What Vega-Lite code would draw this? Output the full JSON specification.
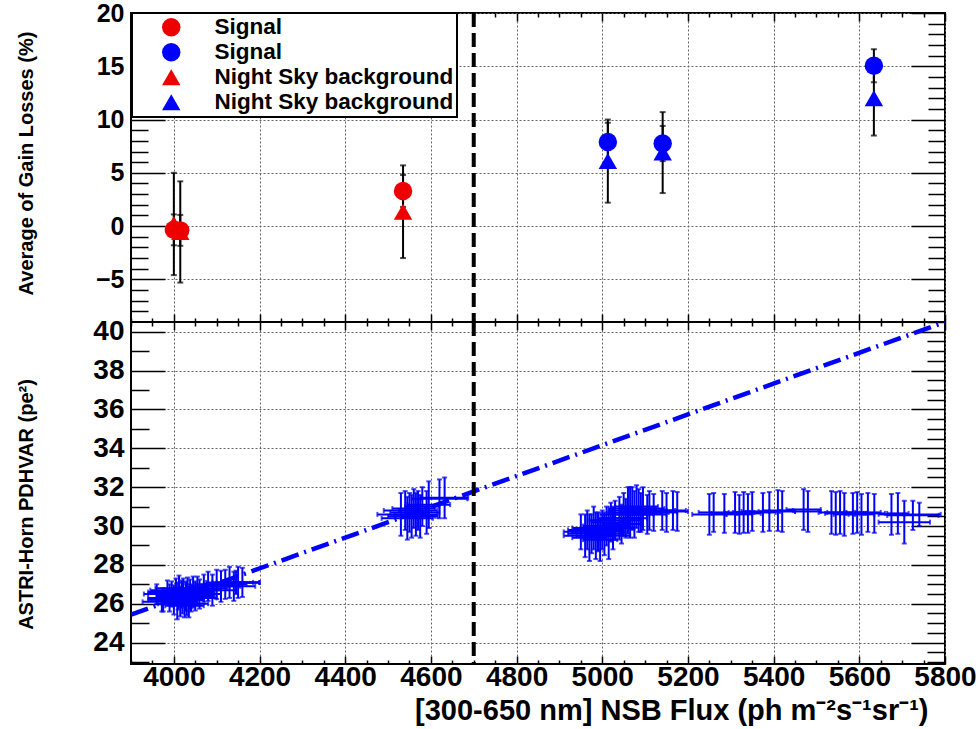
{
  "$schema": "https://vega.github.io/schema/vega-lite/v6.json",
  "background": "white",
  "padding": {"left": 14, "top": 0, "right": 0, "bottom": 0},
  "spacing": 0,
  "bounds": "flush",
  "datasets": {
    "gain": [
      {"flux": 4000, "series": "Signal | red", "value": -0.35, "err": 1.45},
      {"flux": 4015, "series": "Signal | red", "value": -0.4, "err": 1.45},
      {"flux": 4535, "series": "Signal | red", "value": 3.3, "err": 1.5},
      {"flux": 5013, "series": "Signal | blue", "value": 7.9, "err": 1.8},
      {"flux": 5141, "series": "Signal | blue", "value": 7.75, "err": 1.65},
      {"flux": 5634, "series": "Signal | blue", "value": 15.05, "err": 1.55},
      {"flux": 4000, "series": "Night Sky background | red", "value": 0.2, "err": 4.8},
      {"flux": 4015, "series": "Night Sky background | red", "value": -0.55, "err": 4.75},
      {"flux": 4535, "series": "Night Sky background | red", "value": 1.35, "err": 4.35},
      {"flux": 5013, "series": "Night Sky background | blue", "value": 6.1, "err": 3.9},
      {"flux": 5141, "series": "Night Sky background | blue", "value": 6.9, "err": 3.8},
      {"flux": 5634, "series": "Night Sky background | blue", "value": 12.0, "err": 3.5}
    ],
    "pdhvar": [
      {"flux": 3960, "fe": 30, "pd": 26.5, "pe": 0.5},
      {"flux": 3972, "fe": 45, "pd": 26.1, "pe": 0.5},
      {"flux": 3975, "fe": 35, "pd": 26.2, "pe": 0.6},
      {"flux": 3985, "fe": 45, "pd": 26.6, "pe": 0.6},
      {"flux": 3990, "fe": 50, "pd": 26.3, "pe": 0.7},
      {"flux": 3995, "fe": 55, "pd": 26.5, "pe": 0.65},
      {"flux": 4000, "fe": 40, "pd": 26.2, "pe": 0.75},
      {"flux": 4005, "fe": 60, "pd": 26.7, "pe": 0.6},
      {"flux": 4008, "fe": 45, "pd": 26.0, "pe": 0.8},
      {"flux": 4010, "fe": 50, "pd": 26.4, "pe": 0.7},
      {"flux": 4012, "fe": 55, "pd": 26.8, "pe": 0.65},
      {"flux": 4015, "fe": 40, "pd": 26.1, "pe": 0.75},
      {"flux": 4018, "fe": 45, "pd": 26.5, "pe": 0.7},
      {"flux": 4020, "fe": 60, "pd": 26.3, "pe": 0.8},
      {"flux": 4022, "fe": 50, "pd": 26.6, "pe": 0.7},
      {"flux": 4025, "fe": 45, "pd": 25.9, "pe": 0.6},
      {"flux": 4028, "fe": 55, "pd": 26.4, "pe": 0.75},
      {"flux": 4030, "fe": 40, "pd": 26.2, "pe": 0.8},
      {"flux": 4032, "fe": 50, "pd": 26.7, "pe": 0.65},
      {"flux": 4035, "fe": 45, "pd": 26.0, "pe": 0.7},
      {"flux": 4038, "fe": 55, "pd": 26.5, "pe": 0.75},
      {"flux": 4040, "fe": 60, "pd": 26.3, "pe": 0.7},
      {"flux": 4045, "fe": 50, "pd": 26.6, "pe": 0.8},
      {"flux": 4050, "fe": 45, "pd": 26.4, "pe": 0.75},
      {"flux": 4055, "fe": 55, "pd": 26.7, "pe": 0.7},
      {"flux": 4060, "fe": 50, "pd": 26.5, "pe": 0.75},
      {"flux": 4070, "fe": 55, "pd": 26.8, "pe": 0.7},
      {"flux": 4080, "fe": 50, "pd": 26.9, "pe": 0.75},
      {"flux": 4090, "fe": 55, "pd": 26.7, "pe": 0.8},
      {"flux": 4100, "fe": 50, "pd": 27.0, "pe": 0.75},
      {"flux": 4110, "fe": 45, "pd": 26.9, "pe": 0.8},
      {"flux": 4120, "fe": 50, "pd": 27.0, "pe": 0.75},
      {"flux": 4130, "fe": 55, "pd": 27.1, "pe": 0.8},
      {"flux": 4140, "fe": 50, "pd": 26.9, "pe": 0.75},
      {"flux": 4145, "fe": 55, "pd": 27.1, "pe": 0.6},
      {"flux": 4150, "fe": 50, "pd": 27.1, "pe": 0.8},
      {"flux": 4160, "fe": 40, "pd": 27.1, "pe": 0.75},
      {"flux": 4530, "fe": 55, "pd": 30.6, "pe": 1.1},
      {"flux": 4540, "fe": 50, "pd": 30.8, "pe": 1.0},
      {"flux": 4545, "fe": 60, "pd": 30.4, "pe": 1.1},
      {"flux": 4550, "fe": 45, "pd": 30.7, "pe": 1.0},
      {"flux": 4555, "fe": 55, "pd": 30.5, "pe": 1.1},
      {"flux": 4560, "fe": 50, "pd": 30.9, "pe": 1.0},
      {"flux": 4565, "fe": 50, "pd": 30.6, "pe": 1.1},
      {"flux": 4570, "fe": 45, "pd": 30.8, "pe": 1.0},
      {"flux": 4575, "fe": 40, "pd": 30.5, "pe": 1.1},
      {"flux": 4580, "fe": 40, "pd": 31.0, "pe": 1.0},
      {"flux": 4590, "fe": 30, "pd": 30.7, "pe": 1.1},
      {"flux": 4595, "fe": 50, "pd": 31.1, "pe": 1.2},
      {"flux": 4620, "fe": 65, "pd": 31.4, "pe": 1.0},
      {"flux": 4632, "fe": 55, "pd": 31.45, "pe": 1.05},
      {"flux": 4950, "fe": 40, "pd": 29.7, "pe": 0.9},
      {"flux": 4960, "fe": 50, "pd": 29.5, "pe": 1.1},
      {"flux": 4965, "fe": 45, "pd": 29.8, "pe": 1.0},
      {"flux": 4970, "fe": 40, "pd": 29.4, "pe": 1.2},
      {"flux": 4975, "fe": 55, "pd": 29.6, "pe": 1.0},
      {"flux": 4980, "fe": 50, "pd": 29.9, "pe": 1.1},
      {"flux": 4985, "fe": 45, "pd": 29.5, "pe": 1.2},
      {"flux": 4990, "fe": 60, "pd": 29.7, "pe": 1.0},
      {"flux": 4995, "fe": 40, "pd": 29.3, "pe": 1.1},
      {"flux": 5000, "fe": 50, "pd": 29.8, "pe": 1.0},
      {"flux": 5005, "fe": 45, "pd": 29.6, "pe": 1.1},
      {"flux": 5010, "fe": 55, "pd": 30.0, "pe": 1.0},
      {"flux": 5015, "fe": 50, "pd": 29.5, "pe": 1.2},
      {"flux": 5020, "fe": 45, "pd": 30.2, "pe": 1.0},
      {"flux": 5025, "fe": 50, "pd": 29.9, "pe": 1.1},
      {"flux": 5030, "fe": 60, "pd": 30.3, "pe": 1.0},
      {"flux": 5040, "fe": 50, "pd": 30.4, "pe": 1.1},
      {"flux": 5045, "fe": 45, "pd": 30.1, "pe": 1.0},
      {"flux": 5050, "fe": 55, "pd": 30.6, "pe": 1.1},
      {"flux": 5055, "fe": 50, "pd": 30.4, "pe": 1.0},
      {"flux": 5060, "fe": 45, "pd": 30.8, "pe": 1.2},
      {"flux": 5065, "fe": 50, "pd": 30.7, "pe": 1.3},
      {"flux": 5070, "fe": 55, "pd": 30.9, "pe": 1.1},
      {"flux": 5075, "fe": 45, "pd": 30.6, "pe": 1.2},
      {"flux": 5080, "fe": 50, "pd": 31.0, "pe": 1.1},
      {"flux": 5085, "fe": 40, "pd": 30.8, "pe": 1.1},
      {"flux": 5090, "fe": 45, "pd": 30.7, "pe": 1.0},
      {"flux": 5095, "fe": 50, "pd": 30.9, "pe": 1.1},
      {"flux": 5105, "fe": 45, "pd": 30.6, "pe": 1.0},
      {"flux": 5110, "fe": 40, "pd": 30.8, "pe": 1.0},
      {"flux": 5120, "fe": 35, "pd": 30.7, "pe": 0.95},
      {"flux": 5140, "fe": 30, "pd": 30.8, "pe": 1.0},
      {"flux": 5150, "fe": 25, "pd": 30.7, "pe": 1.0},
      {"flux": 5165, "fe": 30, "pd": 30.8, "pe": 1.0},
      {"flux": 5175, "fe": 25, "pd": 30.75, "pe": 1.0},
      {"flux": 5250, "fe": 40, "pd": 30.6, "pe": 1.05},
      {"flux": 5260, "fe": 35, "pd": 30.7, "pe": 1.0},
      {"flux": 5285, "fe": 30, "pd": 30.65, "pe": 1.0},
      {"flux": 5310, "fe": 25, "pd": 30.7, "pe": 1.05},
      {"flux": 5320, "fe": 30, "pd": 30.6, "pe": 1.0},
      {"flux": 5330, "fe": 25, "pd": 30.7, "pe": 1.05},
      {"flux": 5340, "fe": 30, "pd": 30.65, "pe": 1.0},
      {"flux": 5350, "fe": 25, "pd": 30.75, "pe": 1.0},
      {"flux": 5375, "fe": 30, "pd": 30.7, "pe": 1.0},
      {"flux": 5390, "fe": 25, "pd": 30.75, "pe": 1.0},
      {"flux": 5410, "fe": 35, "pd": 30.8, "pe": 1.05},
      {"flux": 5420, "fe": 30, "pd": 30.75, "pe": 1.05},
      {"flux": 5470, "fe": 40, "pd": 30.85, "pe": 1.05},
      {"flux": 5480, "fe": 30, "pd": 30.75, "pe": 1.05},
      {"flux": 5535, "fe": 30, "pd": 30.7, "pe": 1.1},
      {"flux": 5545, "fe": 25, "pd": 30.65, "pe": 1.1},
      {"flux": 5555, "fe": 30, "pd": 30.7, "pe": 1.1},
      {"flux": 5565, "fe": 25, "pd": 30.6, "pe": 1.1},
      {"flux": 5585, "fe": 30, "pd": 30.65, "pe": 1.05},
      {"flux": 5595, "fe": 25, "pd": 30.7, "pe": 1.05},
      {"flux": 5605, "fe": 30, "pd": 30.6, "pe": 1.05},
      {"flux": 5620, "fe": 30, "pd": 30.7, "pe": 1.0},
      {"flux": 5635, "fe": 25, "pd": 30.65, "pe": 1.0},
      {"flux": 5675, "fe": 30, "pd": 30.6, "pe": 1.05},
      {"flux": 5690, "fe": 25, "pd": 30.65, "pe": 1.05},
      {"flux": 5705, "fe": 60, "pd": 30.2, "pe": 1.1},
      {"flux": 5725, "fe": 60, "pd": 30.55, "pe": 0.75},
      {"flux": 5740, "fe": 50, "pd": 30.6, "pe": 0.6}
    ],
    "fit": [
      {"flux": 3900, "pd": 25.44},
      {"flux": 5800, "pd": 40.5}
    ],
    "cut": [
      {"flux": 4700}
    ]
  },
  "vconcat": [
    {
      "width": 814,
      "height": 309,
      "layer": [
        {
          "data": {"name": "gain"},
          "mark": {"type": "errorbar", "color": "black", "thickness": 2, "ticks": true, "size": 6, "clip": true},
          "encoding": {
            "x": {"field": "flux", "type": "quantitative",
                  "scale": {"domain": [3900, 5800], "nice": false, "zero": false},
                  "axis": {"orient": "top", "values": [3900,3950,4000,4050,4100,4150,4200,4250,4300,4350,4400,4450,4500,4550,4600,4650,4700,4750,4800,4850,4900,4950,5000,5050,5100,5150,5200,5250,5300,5350,5400,5450,5500,5550,5600,5650,5700,5750,5800],
                           "labels": false, "title": null, "grid": false, "tickSize": -8,
                           "tickDash": {"condition": {"test": "datum.value % 200 !== 0", "value": [4, 20]}, "value": [20, 1]}}},
            "y": {"field": "value", "type": "quantitative",
                  "scale": {"domain": [-9, 20], "nice": false, "zero": false},
                  "axis": {"orient": "right", "values": [-8,-7,-6,-5,-4,-3,-2,-1,0,1,2,3,4,5,6,7,8,9,10,11,12,13,14,15,16,17,18,19,20],
                           "labels": false, "title": null, "grid": false, "tickSize": -34,
                           "tickDash": {"condition": {"test": "datum.value % 5 !== 0", "value": [17, 40]}, "value": [40, 1]}}},
            "yError": {"field": "err"}
          }
        },
        {
          "data": {"name": "gain"},
          "mark": {"type": "point", "filled": true, "opacity": 1, "size": 340, "strokeWidth": 0},
          "encoding": {
            "x": {"field": "flux", "type": "quantitative",
                  "scale": {"domain": [3900, 5800], "nice": false, "zero": false},
                  "axis": {"orient": "bottom", "values": [3900,3950,4000,4050,4100,4150,4200,4250,4300,4350,4400,4450,4500,4550,4600,4650,4700,4750,4800,4850,4900,4950,5000,5050,5100,5150,5200,5250,5300,5350,5400,5450,5500,5550,5600,5650,5700,5750,5800],
                           "labels": false, "title": null, "grid": true, "tickSize": -8,
                           "gridOpacity": {"condition": {"test": "datum.value % 200 === 0", "value": 1}, "value": 0},
                           "tickDash": {"condition": {"test": "datum.value % 200 !== 0", "value": [4, 20]}, "value": [20, 1]}}},
            "y": {"field": "value", "type": "quantitative",
                  "scale": {"domain": [-9, 20], "nice": false, "zero": false},
                  "axis": {"orient": "left", "values": [-8,-7,-6,-5,-4,-3,-2,-1,0,1,2,3,4,5,6,7,8,9,10,11,12,13,14,15,16,17,18,19,20],
                           "title": "Average of Gain Losses (%)", "titleFontSize": 20, "titleX": -105, "titleY": 150, "titleBaseline": "middle", "titleAngle": -90, "titleAlign": "center",
                           "labelFontSize": 25, "labelPadding": 41, "format": "d",
                           "labelExpr": "datum.value % 5 === 0 ? datum.label : ''",
                           "grid": true, "tickSize": -34,
                           "gridOpacity": {"condition": {"test": "datum.value % 5 === 0", "value": 1}, "value": 0},
                           "tickDash": {"condition": {"test": "datum.value % 5 !== 0", "value": [17, 40]}, "value": [40, 1]}}},
            "color": {"field": "series", "type": "nominal",
                      "scale": {"domain": ["Signal | red", "Signal | blue", "Night Sky background | red", "Night Sky background | blue"],
                                "range": ["#ee0000", "#0000ff", "#ee0000", "#0000ff"]},
                      "legend": {"title": null, "labelExpr": "split(datum.label, ' | ')[0]"}},
            "shape": {"field": "series", "type": "nominal",
                      "scale": {"domain": ["Signal | red", "Signal | blue", "Night Sky background | red", "Night Sky background | blue"],
                                "range": ["circle", "circle", "triangle-up", "triangle-up"]},
                      "legend": {"title": null, "labelExpr": "split(datum.label, ' | ')[0]"}}
          }
        },
        {
          "data": {"name": "cut"},
          "mark": {"type": "rule", "color": "black", "strokeWidth": 4, "strokeDash": [14, 6]},
          "encoding": {"x": {"field": "flux", "type": "quantitative", "axis": null}}
        }
      ],
      "resolve": {"axis": {"x": "independent", "y": "independent"}}
    },
    {
      "width": 814,
      "height": 342,
      "layer": [
        {
          "data": {"name": "pdhvar"},
          "mark": {"type": "errorbar", "color": "#0000ff", "thickness": 2, "ticks": true, "size": 5, "clip": true},
          "encoding": {
            "x": {"field": "flux", "type": "quantitative",
                  "scale": {"domain": [3900, 5800], "nice": false, "zero": false},
                  "axis": {"orient": "top", "values": [3900,3950,4000,4050,4100,4150,4200,4250,4300,4350,4400,4450,4500,4550,4600,4650,4700,4750,4800,4850,4900,4950,5000,5050,5100,5150,5200,5250,5300,5350,5400,5450,5500,5550,5600,5650,5700,5750,5800],
                           "labels": false, "title": null, "grid": false, "tickSize": -8,
                           "tickDash": {"condition": {"test": "datum.value % 200 !== 0", "value": [4, 20]}, "value": [20, 1]}}},
            "y": {"field": "pd", "type": "quantitative",
                  "scale": {"domain": [22.9, 40.5], "nice": false, "zero": false},
                  "axis": {"orient": "right", "values": [23,23.5,24,24.5,25,25.5,26,26.5,27,27.5,28,28.5,29,29.5,30,30.5,31,31.5,32,32.5,33,33.5,34,34.5,35,35.5,36,36.5,37,37.5,38,38.5,39,39.5,40,40.5],
                           "labels": false, "title": null, "grid": false, "tickSize": -34,
                           "tickDash": {"condition": {"test": "datum.value % 2 !== 0", "value": [18, 40]}, "value": [40, 1]}}},
            "yError": {"field": "pe"}
          }
        },
        {
          "data": {"name": "pdhvar"},
          "mark": {"type": "errorbar", "color": "#0000ff", "thickness": 2, "ticks": true, "size": 5, "clip": true},
          "encoding": {
            "x": {"field": "flux", "type": "quantitative", "axis": null},
            "xError": {"field": "fe"},
            "y": {"field": "pd", "type": "quantitative", "axis": null}
          }
        },
        {
          "data": {"name": "fit"},
          "mark": {"type": "line", "color": "#0000ff", "strokeWidth": 4.5, "strokeDash": [18, 6, 2, 6], "clip": true},
          "encoding": {
            "x": {"field": "flux", "type": "quantitative",
                  "scale": {"domain": [3900, 5800], "nice": false, "zero": false},
                  "axis": {"orient": "bottom", "values": [3900,3950,4000,4050,4100,4150,4200,4250,4300,4350,4400,4450,4500,4550,4600,4650,4700,4750,4800,4850,4900,4950,5000,5050,5100,5150,5200,5250,5300,5350,5400,5450,5500,5550,5600,5650,5700,5750,5800],
                           "title": "[300-650 nm] NSB Flux (ph m⁻²s⁻¹sr⁻¹)", "titleFontSize": 29, "titleX": 797, "titleY": 55, "titleAlign": "right", "titleBaseline": "alphabetic", "titleAngle": 0,
                           "labelFontSize": 28, "labelPadding": 7, "labelBaseline": "top",
                           "labelExpr": "datum.value % 200 === 0 ? datum.label : ''",
                           "format": "d",
                           "grid": true, "tickSize": -8,
                           "gridOpacity": {"condition": {"test": "datum.value % 200 === 0", "value": 1}, "value": 0},
                           "tickDash": {"condition": {"test": "datum.value % 200 !== 0", "value": [4, 20]}, "value": [20, 1]}}},
            "y": {"field": "pd", "type": "quantitative",
                  "scale": {"domain": [22.9, 40.5], "nice": false, "zero": false},
                  "axis": {"orient": "left", "values": [23,23.5,24,24.5,25,25.5,26,26.5,27,27.5,28,28.5,29,29.5,30,30.5,31,31.5,32,32.5,33,33.5,34,34.5,35,35.5,36,36.5,37,37.5,38,38.5,39,39.5,40,40.5],
                           "title": "ASTRI-Horn PDHVAR (pe²)", "titleFontSize": 20, "titleX": -105, "titleY": 182, "titleBaseline": "middle", "titleAngle": -90, "titleAlign": "center",
                           "labelFontSize": 28, "labelPadding": 41, "format": "d",
                           "labelExpr": "datum.value % 2 === 0 ? datum.label : ''",
                           "grid": true, "tickSize": -34,
                           "gridOpacity": {"condition": {"test": "datum.value % 2 === 0", "value": 1}, "value": 0},
                           "tickDash": {"condition": {"test": "datum.value % 2 !== 0", "value": [18, 40]}, "value": [40, 1]}}}
          }
        },
        {
          "data": {"name": "cut"},
          "mark": {"type": "rule", "color": "black", "strokeWidth": 4, "strokeDash": [14, 6]},
          "encoding": {"x": {"field": "flux", "type": "quantitative", "axis": null}}
        }
      ],
      "resolve": {"axis": {"x": "independent", "y": "independent"}}
    }
  ],
  "config": {
    "view": {"stroke": "black", "strokeWidth": 2},
    "font": "Liberation Sans",
    "axis": {
      "labelFont": "Liberation Sans", "labelFontWeight": "bold", "labelColor": "black",
      "titleFont": "Liberation Sans", "titleFontWeight": "bold", "titleColor": "black",
      "tickColor": "black", "tickWidth": 1.5, "domain": false,
      "gridColor": "#666666", "gridDash": [2, 2], "gridWidth": 1,
      "labelFlush": false, "labelOverlap": false, "labelBound": false
    },
    "legend": {
      "orient": "none", "legendX": 1, "legendY": 0,
      "fillColor": "white", "strokeColor": "black", "strokeWidth": 2,
      "padding": 3, "rowPadding": 2, "symbolOffset": 25, "labelOffset": 32,
      "labelFont": "Liberation Sans", "labelFontWeight": "bold", "labelFontSize": 22.5, "labelColor": "black",
      "symbolSize": 340, "symbolStrokeWidth": 0, "labelLimit": 400
    }
  }
}
